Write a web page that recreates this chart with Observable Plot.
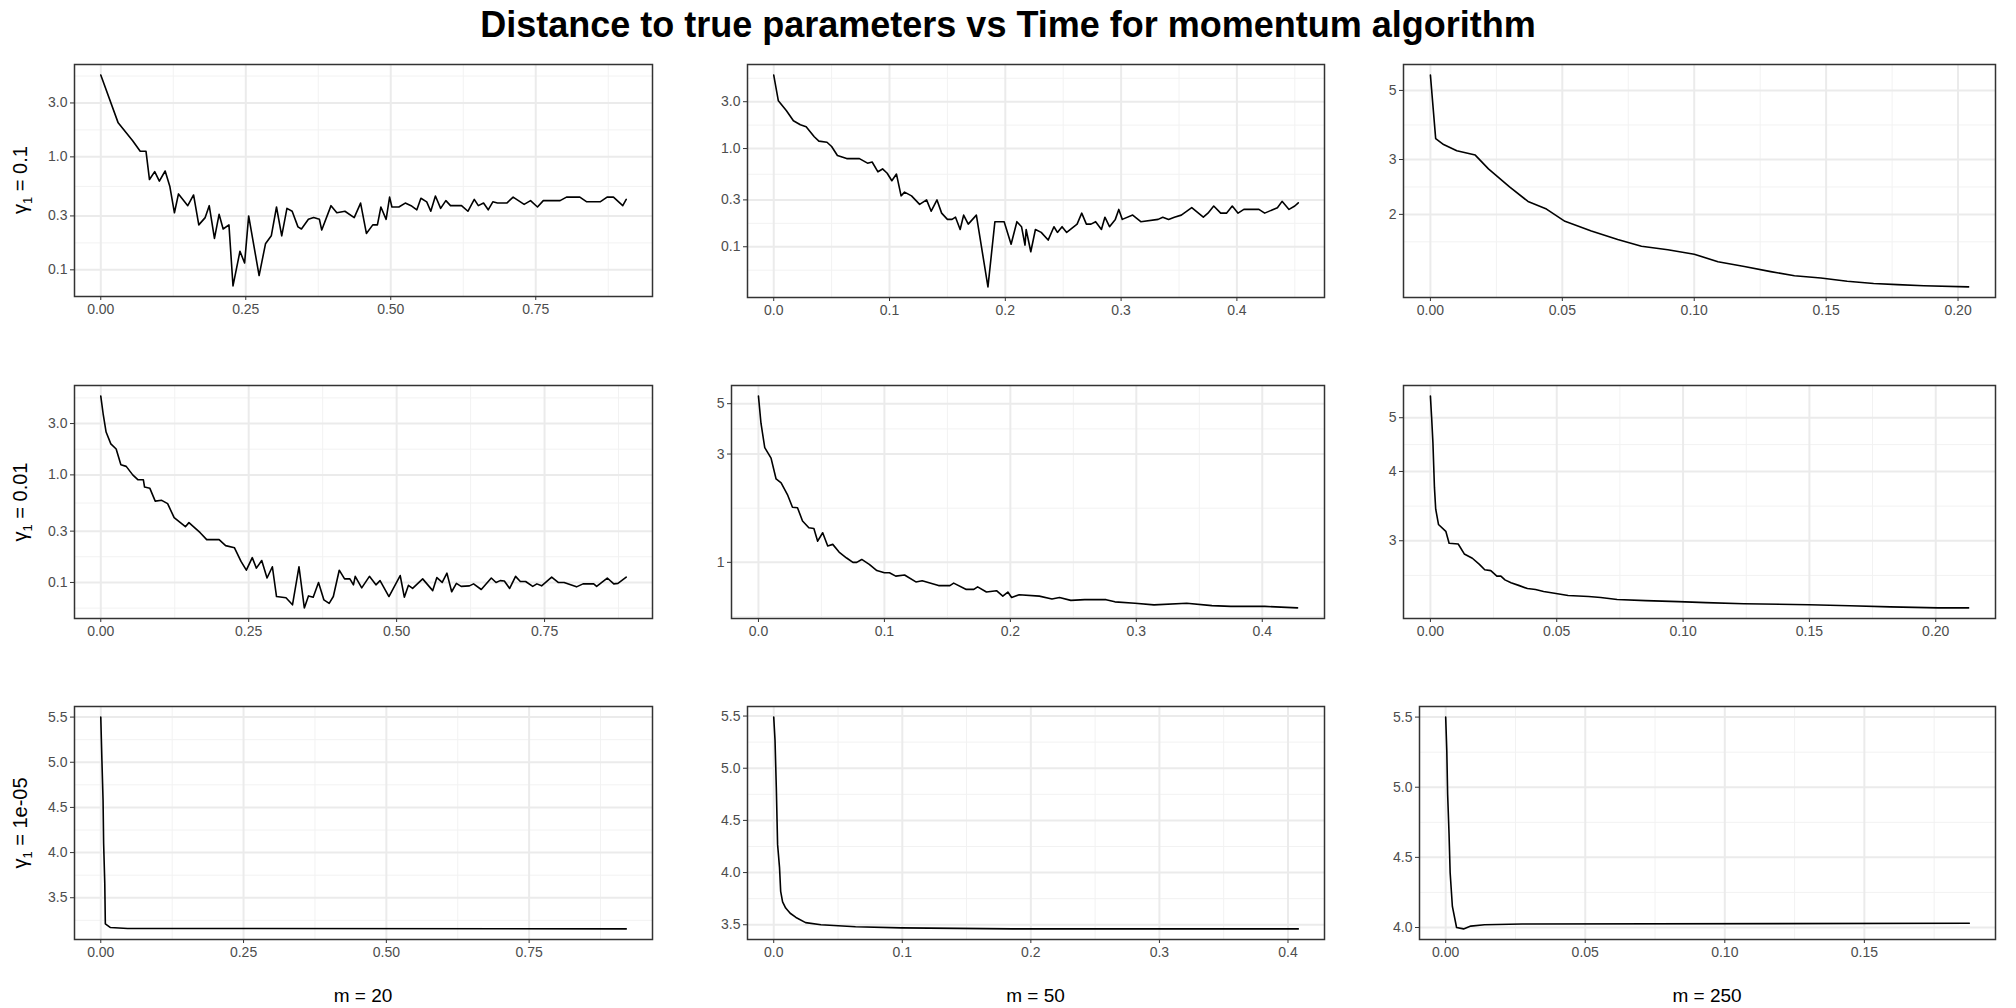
<!DOCTYPE html>
<html>
<head>
<meta charset="utf-8">
<script src="https://cdn.jsdelivr.net/npm/d3@7"></script>
<script src="https://cdn.jsdelivr.net/npm/@observablehq/plot@0.6"></script>
<style>
  body { margin: 0; background: #fff; font-family: "Liberation Sans", Arial, sans-serif; }
  #chart { position: relative; width: 2016px; height: 1008px; }
  #chart > .pan { position: absolute; }
  .title { position: absolute; left: 0; width: 2016px; top: 4px; text-align: center; font-weight: bold; font-size: 36px; }
  .xlab { position: absolute; top: 985px; font-size: 19px; transform: translateX(-50%); }
  .ylab { position: absolute; font-size: 20px; transform: translate(-50%, -50%) rotate(-90deg); white-space: nowrap; }
</style>
</head>
<body>
<div id="chart"><div class="title">Distance to true parameters vs Time for momentum algorithm</div></div>
<script>
// panel values: time (t) and distance (v)
const p1_t = [0,.03,.055,.068,.078,.084,.093,.101,.111,.119,.127,.134,.15,.16,.169,.18,.187,.196,.204,.211,.221,.228,.24,.248,.255,.273,.284,.294,.303,.312,.321,.33,.34,.346,.358,.367,.377,.381,.397,.407,.421,.437,.448,.458,.469,.477,.483,.492,.498,.502,.514,.525,.535,.545,.552,.562,.569,.577,.586,.595,.603,.622,.633,.644,.651,.66,.668,.676,.684,.7,.711,.73,.741,.753,.763,.792,.803,.826,.838,.861,.873,.884,.9,.906];
const p1_v = [5.3,2.0,1.39,1.12,1.12,.63,.74,.61,.75,.55,.32,.47,.37,.46,.25,.29,.37,.19,.31,.23,.25,.072,.146,.115,.30,.089,.17,.2,.36,.2,.35,.33,.24,.23,.28,.29,.28,.225,.37,.32,.33,.29,.39,.21,.25,.25,.36,.28,.44,.36,.36,.39,.37,.34,.43,.40,.33,.45,.35,.41,.37,.37,.33,.42,.37,.39,.34,.40,.39,.39,.44,.38,.41,.36,.41,.41,.44,.44,.40,.40,.44,.44,.37,.42];

const p2_t = [0,.004,.011,.017,.023,.028,.035,.039,.046,.05,.055,.063,.074,.081,.085,.09,.094,.098,.102,.106,.11,.113,.119,.126,.132,.136,.141,.145,.15,.154,.157,.161,.164,.168,.175,.185,.191,.199,.205,.21,.214,.217,.218,.222,.226,.231,.237,.242,.245,.249,.253,.262,.266,.27,.274,.278,.283,.286,.29,.295,.298,.301,.31,.317,.332,.336,.341,.346,.352,.361,.371,.375,.38,.386,.391,.396,.401,.406,.419,.424,.435,.439,.445,.45,.453];
const p2_v = [5.6,3.06,2.43,1.92,1.75,1.67,1.32,1.19,1.16,1.05,.85,.79,.79,.71,.73,.58,.62,.56,.47,.55,.33,.36,.33,.27,.30,.23,.30,.22,.19,.19,.20,.15,.21,.17,.21,.039,.18,.18,.106,.18,.16,.104,.15,.089,.15,.14,.117,.16,.14,.16,.14,.17,.22,.17,.17,.18,.15,.20,.16,.19,.24,.19,.21,.18,.19,.20,.19,.20,.21,.25,.20,.22,.26,.22,.22,.26,.22,.24,.24,.22,.25,.29,.24,.26,.28];

const p3_t = [0,.002,.005,.010,.017,.022,.030,.037,.044,.051,.061,.071,.080,.090,.100,.109,.119,.129,.138,.148,.158,.168,.177,.187,.204];
const p3_v = [5.6,3.5,3.35,3.2,3.1,2.8,2.45,2.2,2.08,1.9,1.77,1.66,1.58,1.54,1.49,1.41,1.36,1.31,1.27,1.25,1.22,1.20,1.19,1.18,1.17];

const p4_t = [0,.004,.009,.017,.026,.034,.043,.054,.063,.072,.074,.083,.092,.103,.113,.124,.143,.149,.168,.179,.2,.211,.226,.237,.246,.256,.263,.272,.281,.29,.297,.313,.324,.335,.344,.351,.359,.368,.377,.386,.393,.403,.412,.421,.427,.43,.441,.454,.465,.472,.487,.506,.513,.52,.527,.544,.561,.568,.577,.585,.593,.601,.609,.623,.63,.643,.66,.668,.675,.682,.691,.701,.709,.718,.73,.737,.745,.762,.773,.783,.804,.815,.833,.838,.856,.867,.874,.888];
const p4_v = [5.4,3.7,2.5,1.94,1.74,1.24,1.2,1.0,.90,.90,.77,.75,.57,.58,.54,.40,.33,.36,.29,.25,.25,.22,.21,.157,.13,.17,.136,.16,.11,.14,.074,.072,.062,.14,.058,.075,.073,.1,.069,.064,.074,.13,.108,.108,.095,.114,.089,.114,.095,.104,.074,.116,.073,.094,.088,.108,.084,.111,.1,.122,.082,.098,.092,.093,.097,.086,.11,.1,.104,.103,.088,.114,.102,.102,.092,.097,.093,.112,.1,.1,.091,.097,.097,.092,.11,.097,.098,.112];

const p5_t = [0,.002,.005,.01,.014,.018,.023,.027,.031,.035,.04,.044,.047,.051,.055,.059,.064,.07,.075,.078,.082,.088,.094,.1,.104,.109,.116,.125,.13,.143,.152,.155,.165,.171,.174,.181,.189,.194,.198,.201,.207,.223,.233,.239,.248,.259,.267,.276,.283,.299,.314,.34,.36,.375,.402,.428];
const p5_v = [5.4,4.1,3.2,2.88,2.33,2.24,1.99,1.75,1.74,1.52,1.42,1.41,1.24,1.35,1.18,1.2,1.11,1.045,1.0,1.0,1.03,.98,.92,.90,.90,.87,.88,.82,.83,.79,.79,.81,.76,.76,.78,.74,.75,.71,.74,.70,.72,.71,.69,.70,.68,.685,.685,.685,.67,.66,.65,.66,.645,.64,.64,.63];

const p6_t = [0,.0005,.001,.0013,.0016,.0021,.0032,.0061,.0074,.011,.0134,.0166,.0194,.0215,.0239,.0263,.0279,.0295,.0319,.0352,.0384,.0416,.0448,.0497,.0545,.0626,.0674,.0739,.0852,.0981,.109,.124,.15,.166,.182,.201,.213];
const p6_v = [5.47,4.99,4.5,4.1,3.74,3.42,3.21,3.12,2.97,2.96,2.84,2.79,2.72,2.66,2.65,2.59,2.59,2.55,2.52,2.49,2.46,2.45,2.43,2.41,2.39,2.38,2.37,2.35,2.34,2.33,2.32,2.31,2.30,2.29,2.28,2.27,2.27];

const p7_t = [0,.002,.004,.005,.007,.008,.017,.047,.92];
const p7_v = [5.5,5.02,4.58,4.1,3.66,3.21,3.17,3.16,3.155];

const p8_t = [0,.001,.002,.003,.0045,.0054,.0069,.0093,.0128,.0173,.0248,.0367,.0636,.0994,.186,.408];
const p8_v = [5.49,5.27,4.82,4.27,4.05,3.82,3.72,3.66,3.61,3.57,3.52,3.50,3.48,3.47,3.46,3.46];

const p9_t = [0,.0004,.0007,.0012,.0016,.0024,.0039,.0064,.009,.0139,.0274,.1876];
const p9_v = [5.5,5.26,4.95,4.67,4.39,4.15,4.0,3.99,4.01,4.02,4.025,4.03];

const rowLabels = ["0.1", "0.01", "1e-05"];
const colLabels = ["m = 20", "m = 50", "m = 250"];

const xT20 = [0, .25, .5, .75], xT50 = [0, .1, .2, .3, .4], xT250 = [0, .05, .1, .15, .2];
const panels = [
  {t: p1_t, v: p1_v, log: true, xt: xT20, xf: ".2f", yt: [.1, .3, 1, 3], yf: ".1f", L: 74, R: 652, T: 64, B: 296},
  {t: p2_t, v: p2_v, log: true, xt: xT50, xf: ".1f", yt: [.1, .3, 1, 3], yf: ".1f", L: 747, R: 1324, T: 64, B: 297},
  {t: p3_t, v: p3_v, log: true, xt: xT250, xf: ".2f", yt: [2, 3, 5], yf: "d", L: 1403, R: 1995, T: 64, B: 297},
  {t: p4_t, v: p4_v, log: true, xt: xT20, xf: ".2f", yt: [.1, .3, 1, 3], yf: ".1f", L: 74, R: 652, T: 385, B: 618},
  {t: p5_t, v: p5_v, log: true, xt: xT50, xf: ".1f", yt: [1, 3, 5], yf: "d", L: 731, R: 1324, T: 385, B: 618},
  {t: p6_t, v: p6_v, log: true, xt: xT250, xf: ".2f", yt: [3, 4, 5], yf: "d", L: 1403, R: 1995, T: 385, B: 618},
  {t: p7_t, v: p7_v, log: false, xt: xT20, xf: ".2f", yt: [3.5, 4, 4.5, 5, 5.5], yf: ".1f", L: 74, R: 652, T: 706, B: 939},
  {t: p8_t, v: p8_v, log: false, xt: xT50, xf: ".1f", yt: [3.5, 4, 4.5, 5, 5.5], yf: ".1f", L: 747, R: 1324, T: 706, B: 939},
  {t: p9_t, v: p9_v, log: false, xt: [0, .05, .1, .15], xf: ".2f", yt: [4, 4.5, 5, 5.5], yf: ".1f", L: 1419, R: 1995, T: 706, B: 939}
];

// ggplot-like expansion and minor breaks (midpoints in transformed space)
function padded(vals, f, fi) {
  const [a, b] = d3.extent(vals, f); const p = (b - a) * 0.05;
  return [fi(a - p), fi(b + p)];
}
function minors(majors, f, fi, dom) {
  const m = majors.map(f), step = m.length > 1 ? m[1] - m[0] : 1;
  const ext = [m[0] - step, ...m, m[m.length - 1] + step];
  const out = [];
  for (let i = 0; i < ext.length - 1; i++) out.push(fi((ext[i] + ext[i + 1]) / 2));
  return out.filter(d => d >= Math.min(...dom) && d <= Math.max(...dom));
}

const chart = document.getElementById("chart");
const mL = 50, mR = 4, mT = 4, mB = 32;
const id = d => d;

panels.forEach((p, i) => {
  const data = p.t.map((t, j) => ({t, v: p.v[j]}));
  const xd = padded(p.t, id, id);
  const fy = p.log ? Math.log10 : id, fyi = p.log ? (d => 10 ** d) : id;
  const yd = padded(p.v, fy, fyi);
  const xMinor = minors(p.xt, id, id, xd);
  const yMinor = minors(p.yt, fy, fyi, yd);
  const plot = Plot.plot({
    width: p.R - p.L + mL + mR,
    height: p.B - p.T + mT + mB,
    marginLeft: mL, marginRight: mR, marginTop: mT, marginBottom: mB,
    style: {fontFamily: "Liberation Sans, Arial, sans-serif", fontSize: "14px", color: "#4d4d4d"},
    x: {domain: xd},
    y: {type: p.log ? "log" : "linear", domain: yd},
    marks: [
      Plot.ruleX(xMinor, {stroke: "#f2f2f2", strokeWidth: 1}),
      Plot.ruleY(yMinor, {stroke: "#f2f2f2", strokeWidth: 1}),
      Plot.ruleX(p.xt.filter(d => d >= xd[0] && d <= xd[1]), {stroke: "#ebebeb", strokeWidth: 2}),
      Plot.ruleY(p.yt, {stroke: "#ebebeb", strokeWidth: 2}),
      Plot.line(data, {x: "t", y: "v", stroke: "black", strokeWidth: 1.6}),
      Plot.axisX({ticks: p.xt, tickFormat: d3.format(p.xf), tickSize: 4, tickPadding: 4, stroke: "#333", fill: "#4d4d4d", label: null}),
      Plot.axisY({ticks: p.yt, tickFormat: d3.format(p.yf), tickSize: 4, tickPadding: 3, stroke: "#333", fill: "#4d4d4d", label: null}),
      Plot.frame({stroke: "#333", strokeWidth: 1.5})
    ]
  });
  plot.classList.add("pan");
  plot.style.left = (p.L - mL) + "px";
  plot.style.top = (p.T - mT) + "px";
  chart.appendChild(plot);

  if (i % 3 === 0) {
    const yl = document.createElement("div");
    yl.className = "ylab";
    yl.innerHTML = "γ<sub style='font-size:13px'>1</sub> = " + rowLabels[i / 3];
    yl.style.left = "22px";
    yl.style.top = ((p.T + p.B) / 2) + "px";
    chart.appendChild(yl);
  }
  if (i >= 6) {
    const xl = document.createElement("div");
    xl.className = "xlab";
    xl.textContent = colLabels[i - 6];
    xl.style.left = ((p.L + p.R) / 2) + "px";
    chart.appendChild(xl);
  }
});
</script>
</body>
</html>
